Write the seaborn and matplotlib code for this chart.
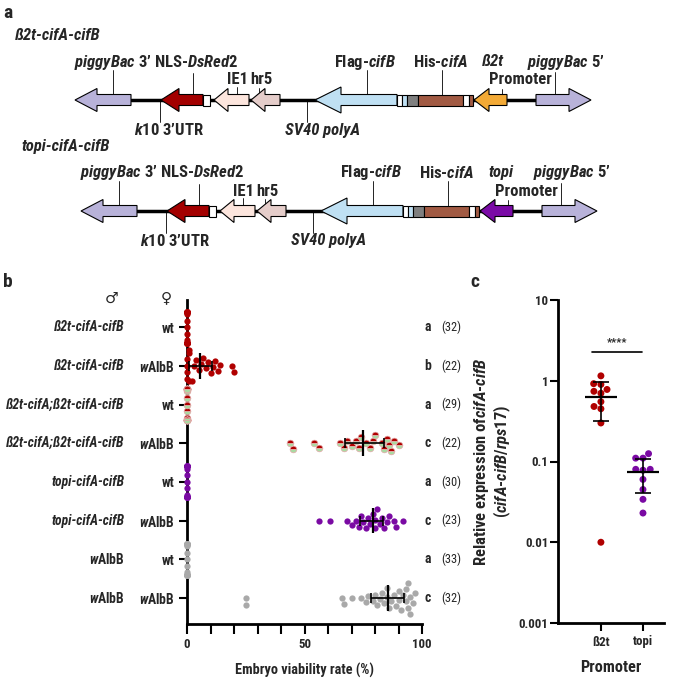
import warnings
import numpy as np
import pandas as pd
import matplotlib
matplotlib.use("Agg")
import matplotlib.pyplot as plt
from matplotlib import font_manager
from matplotlib.font_manager import FontProperties
from matplotlib.patches import Polygon, Rectangle
from matplotlib.ticker import NullLocator
import seaborn as sns

warnings.filterwarnings("ignore")

# ---------------- panel a: construct maps ----------------
construct_titles = ["ß2t-cifA-cifB", "topi-cifA-cifB"]
promoter_names = ["ß2t", "topi"]
# arrow features: left end, right end, head length, direction (-1 = points left)
feat_left = [75, 161, 214, 251, 315, 474, 536]
feat_right = [131, 203, 249, 280, 397, 507, 591]
feat_head = [22, 18, 14, 14, 26, 15, 22]
feat_dir = [-1, -1, -1, -1, -1, -1, 1]
feat_kind = ["pb", "dsred", "ie1", "hr5", "flag", "promoter", "pb"]
# small tag boxes inside the cassette
tag_left = [203, 397, 402, 407, 418, 463, 469]
tag_right = [210, 402, 407, 418, 463, 469, 473]
tag_kind = ["white", "white", "flag", "grey", "his", "white", "his"]

# ---------------- panel b: embryo viability (%) ----------------
male_labels = ["ß2t-cifA-cifB", "ß2t-cifA-cifB", "ß2t-cifA;ß2t-cifA-cifB", "ß2t-cifA;ß2t-cifA-cifB",
               "topi-cifA-cifB", "topi-cifA-cifB", "wAlbB", "wAlbB"]
female_labels = ["wt", "wAlbB", "wt", "wAlbB", "wt", "wAlbB", "wt", "wAlbB"]
stat_letters = ["a", "b", "a", "c", "a", "c", "a", "c"]
n_embryos = [32, 22, 29, 22, 30, 23, 33, 32]

rate_b2t_wt = [0, 0, 0, 0, 0, 0, 0, 0, 0, 0, 0, 0, 0, 0, 0, 0,
               0, 0, 0, 0, 0, 0, 0, 0, 0, 0, 0, 0, 0, 0, 0, 0]
rate_b2t_walbb = [0, 0, 0, 0, 1, 1, 1, 2, 3, 4, 5, 6, 7, 8, 9, 10, 11, 12, 13, 14, 19, 20]
rate_double_wt = [0, 0, 0, 0, 0, 0, 0, 0, 0, 0, 0, 0, 0, 0, 0,
                  0, 0, 0, 0, 0, 0, 0, 0, 0, 0, 0, 0, 0, 0]
rate_double_walbb = [44, 45, 54, 56, 65, 67, 68, 70, 72, 73, 74, 76, 78, 79, 80, 83,
                     84, 85, 86, 87, 88, 90]
rate_topi_wt = [0, 0, 0, 0, 0, 0, 0, 0, 0, 0, 0, 0, 0, 0, 0,
                0, 0, 0, 0, 0, 0, 0, 0, 0, 0, 0, 0, 0, 0, 0]
rate_topi_walbb = [56, 61, 68, 70, 72, 73, 74, 75, 76, 77, 78, 79, 80, 80, 81, 82,
                   83, 84, 85, 86, 88, 89, 92]
rate_walbb_wt = [0, 0, 0, 0, 0, 0, 0, 0, 0, 0, 0, 0, 0, 0, 0, 0, 0,
                 0, 0, 0, 0, 0, 0, 0, 0, 0, 0, 0, 0, 0, 0, 0, 0]
rate_walbb_walbb = [25, 25, 66, 67, 70, 74, 76, 77, 79, 80, 81, 82, 83, 84, 85, 85,
                    86, 87, 88, 89, 90, 90, 91, 92, 93, 93, 94, 94, 95, 95, 96, 97]
row_group = ["red", "red", "double", "double", "purple", "purple", "grey", "grey"]

# ---------------- panel c: relative expression ----------------
promoters = ["ß2t", "topi"]
expr_b2t = [1.15, 0.92, 0.90, 0.78, 0.74, 0.70, 0.55, 0.48, 0.45, 0.30, 0.01]
expr_topi = [0.125, 0.11, 0.11, 0.08, 0.08, 0.078, 0.06, 0.045, 0.034, 0.023]

RED = "#b00000"
GREEN = "#a9dba2"
PURPLE = "#7a0aa3"
GREY = "#a9a9a9"
palette_a = {"pb": "#b8b2d9", "dsred": "#a30000", "ie1": "#fce5dd", "hr5": "#e5cdca",
             "flag": "#bfe0f3", "white": "white", "grey": "#7f7f7f", "his": "#a15a43"}
promoter_colors = ["#f3aa36", "#7a0aa6"]


def pick_font():
    """look for a narrow sans (the original uses a condensed Arial-like face)"""
    ents = font_manager.fontManager.ttflist
    for fam in ["Liberation Sans Narrow", "Arial Narrow", "Roboto Condensed", "Open Sans Condensed"]:
        if any(e.name == fam for e in ents):
            return fam, "normal"
    for fam in ["Roboto", "Noto Sans", "Open Sans", "DejaVu Sans"]:
        if any(e.name == fam and e.stretch in ("condensed", "semi-condensed") for e in ents):
            return fam, "condensed"
    return "Liberation Sans", "normal"


FONT, STRETCH = pick_font()

sns.set_theme(style="ticks")
plt.rcParams["font.family"] = [FONT, "DejaVu Sans"]
plt.rcParams["font.stretch"] = STRETCH
plt.rcParams["mathtext.fontset"] = "custom"
plt.rcParams["mathtext.it"] = FontProperties(family=FONT, style="italic", weight="bold",
                                             stretch=STRETCH).get_fontconfig_pattern()
plt.rcParams["mathtext.rm"] = FontProperties(family=FONT, weight="bold",
                                             stretch=STRETCH).get_fontconfig_pattern()
plt.rcParams["mathtext.bf"] = plt.rcParams["mathtext.rm"]

W, H = 676, 681
fig = plt.figure(figsize=(W / 100, H / 100), dpi=100)
renderer = fig.canvas.get_renderer()


def fit(s, target, cap, **kw):
    """font size that makes string s about target pixels wide"""
    t = fig.text(0, 0, s, fontsize=10, **kw)
    w = t.get_window_extent(renderer).width
    t.remove()
    return min(cap, 10 * target / w)


def fig_box(x0, y0, x1, y1):
    """pixel box (top-left origin) -> figure rect"""
    return [x0 / W, 1 - y1 / H, (x1 - x0) / W, (y1 - y0) / H]


def arrow_poly(x0, x1, y, head, direction, h=5.5, hh=11.5):
    if direction < 0:
        xb = x0 + head
        return [(x0, y), (xb, y - hh), (xb, y - h), (x1, y - h), (x1, y + h), (xb, y + h), (xb, y + hh)]
    xb = x1 - head
    return [(x1, y), (xb, y - hh), (xb, y - h), (x0, y - h), (x0, y + h), (xb, y + h), (xb, y + hh)]


BI = dict(fontweight="bold", style="italic")
S_MALE = fit("ß2t-cifA;ß2t-cifA-cifB", 118, 11, **BI)
S_TITLE = fit("ß2t-cifA-cifB", 85, 12.5, **BI)
S_A = fit("piggyBac 3’ NLS-DsRed2", 165, 12, fontweight="bold")
S_TICK = fit("0.001", 30, 10.5, fontweight="bold")
S_XLAB = fit("Embryo viability rate (%)", 140, 11, fontweight="bold")
S_PROM = fit("Promoter", 61, 12, fontweight="bold")
S_YLAB = fit("Relative expression of cifA-cifB", 246, 12, fontweight="bold")
S_N = fit("(32)", 20, 11)

# ---------------- panel a ----------------
ax_a = fig.add_axes([0, 1 - 290 / H, 1, 290 / H])
ax_a.set_xlim(0, W)
ax_a.set_ylim(290, 0)
ax_a.axis("off")

for k in range(2):
    dx, dy = 6 * k, 111 * k
    yc = 100 + dy
    ax_a.text(15 + dx, 36 + dy, construct_titles[k], fontsize=S_TITLE, va="center", **BI)
    ax_a.plot([feat_right[0] + dx, feat_left[-1] + dx], [yc, yc], color="black", lw=2.5, zorder=1)
    for x0, x1, hd, d, kind in zip(feat_left, feat_right, feat_head, feat_dir, feat_kind):
        col = promoter_colors[k] if kind == "promoter" else palette_a[kind]
        hh = 13 if kind == "flag" else 11.5
        ax_a.add_patch(Polygon(arrow_poly(x0 + dx, x1 + dx, yc, hd, d, hh=hh), closed=True,
                               facecolor=col, edgecolor="black", lw=0.8, zorder=2))
    for x0, x1, kind in zip(tag_left, tag_right, tag_kind):
        ax_a.add_patch(Rectangle((x0 + dx, yc - 5.5), x1 - x0, 11, facecolor=palette_a[kind],
                                 edgecolor="black", lw=0.8, zorder=3))
    lab = dict(fontsize=S_A, fontweight="bold", va="center")
    ax_a.text(74 + dx, 62 + dy, r"$\mathit{piggyBac}$ 3’ NLS-$\mathit{DsRed2}$", ha="left", **lab)
    ax_a.text(237 + dx, 80 + dy, "IE1", ha="center", **lab)
    ax_a.text(261 + dx, 80 + dy, "hr5", ha="center", **lab)
    ax_a.text(365 + dx, 62 + dy, r"Flag-$\mathit{cifB}$", ha="center", **lab)
    ax_a.text(441 + dx, 62 + dy, r"His-$\mathit{cifA}$", ha="center", **lab)
    ax_a.text(482 + dx, 62 + dy, promoter_names[k], ha="left", style="italic", **lab)
    ax_a.text(489 + dx, 80 + dy, "Promoter", ha="left", **lab)
    ax_a.text(566 + dx, 62 + dy, r"$\mathit{piggyBac\ 5}$’", ha="center", **lab)
    ax_a.text(169 + dx, 130 + dy, r"$\mathit{k10}$ 3’UTR", ha="center", **lab)
    ax_a.text(323 + dx, 130 + dy, "SV40 polyA", ha="center", style="italic", **lab)
    for px, y0, y1 in [(113, 70, 94.5), (193, 73, 94.5), (237, 87, 94.5), (259, 88, 94.5),
                       (367, 70, 94.5), (442, 70, 94.5), (502, 89, 94.5), (555, 72, 94.5),
                       (160, 100, 122), (307, 100, 122)]:
        ax_a.plot([px + dx, px + dx], [y0 + dy, y1 + dy], color="black", lw=0.6, zorder=1)

# ---------------- panel b ----------------
ax_b = fig.add_axes(fig_box(187, 300, 422, 624))
rates = [rate_b2t_wt, rate_b2t_walbb, rate_double_wt, rate_double_walbb,
         rate_topi_wt, rate_topi_walbb, rate_walbb_wt, rate_walbb_walbb]
row_ids = [f"r{i}" for i in range(len(rates))]
df_b = pd.DataFrame({
    "row": np.repeat(row_ids, [len(r) for r in rates]),
    "group": np.repeat(row_group, [len(r) for r in rates]),
    "rate": np.concatenate(rates).astype(float),
})
group_colors = {"red": RED, "double": RED, "purple": PURPLE, "grey": GREY}
double_colls = []
for grp, col in group_colors.items():
    n0 = len(ax_b.collections)
    sns.swarmplot(data=df_b[df_b["group"] == grp], x="rate", y="row", order=row_ids,
                  orient="h", color=col, size=4.5, linewidth=0, ax=ax_b)
    if grp == "double":
        double_colls = ax_b.collections[n0:]

ax_b.set_xlim(0, 100)
ax_b.set_ylim(7.67, -0.7)
for c in ax_b.collections:
    c.set_clip_on(False)
fig.canvas.draw()
xy = np.concatenate([c.get_offsets() for c in double_colls])
for c in double_colls:
    c.set_visible(False)
ax_b.plot(xy[:, 0], xy[:, 1], "o", ms=4.8, fillstyle="top", markerfacecolor=RED,
          markerfacecoloralt=GREEN, markeredgecolor="#e3a7a7", markeredgewidth=0.5,
          ls="none", clip_on=False, zorder=3)

for i, r in enumerate(rates):
    if max(r) == 0:
        continue
    q1, med, q3 = np.percentile(r, [25, 50, 75])
    ax_b.errorbar(med, i, xerr=[[med - q1], [q3 - med]], fmt="none", ecolor="black",
                  elinewidth=1.2, capsize=3.5, capthick=1.2, zorder=5)
    ax_b.vlines(med, i - 0.33, i + 0.33, color="black", lw=1.6, zorder=5)

fem = [r"$\mathit{w}$AlbB" if f == "wAlbB" else f for f in female_labels]
ax_b.set_yticks(range(len(rates)))
ax_b.set_yticklabels(fem, fontweight="bold", fontsize=S_MALE)
ax_b.set_xticks(range(0, 101, 10))
ax_b.set_xticklabels([str(t) if t % 50 == 0 else "" for t in range(0, 101, 10)],
                     fontweight="bold", fontsize=S_TICK)
ax_b.tick_params(axis="both", width=1.5, length=6, color="black", pad=3)
ax_b.tick_params(axis="x", length=7)
ax_b.set_ylabel("")
ax_b.set_xlabel("Embryo viability rate (%)", fontweight="bold", fontsize=S_XLAB, labelpad=9)
sns.despine(ax=ax_b)
for s in ["left", "bottom"]:
    ax_b.spines[s].set_linewidth(2)
    ax_b.spines[s].set_color("black")

ytr = ax_b.get_yaxis_transform()
for i, lab in enumerate(male_labels):
    if lab == "wAlbB":
        ax_b.text(-0.265, i, r"$\mathit{w}$AlbB", transform=ytr, ha="right", va="center",
                  fontweight="bold", fontsize=S_MALE)
    else:
        ax_b.text(-0.265, i, lab, transform=ytr, ha="right", va="center",
                  fontsize=S_MALE, **BI)
    ax_b.text(1.026, i, stat_letters[i], transform=ytr, ha="center", va="center",
              fontweight="bold", fontsize=S_MALE)
    ax_b.text(1.08, i, f"({n_embryos[i]})", transform=ytr, ha="left", va="center", fontsize=S_N)

fig.text(112 / W, 1 - 298 / H, "♂", family="DejaVu Sans", fontsize=11, ha="center", va="center")
fig.text(166 / W, 1 - 298 / H, "♀", family="DejaVu Sans", fontsize=11, ha="center", va="center")

# ---------------- panel c ----------------
ax_c = fig.add_axes(fig_box(558, 300, 664, 623))
df_c = pd.DataFrame({
    "promoter": ["ß2t"] * len(expr_b2t) + ["topi"] * len(expr_topi),
    "expr": expr_b2t + expr_topi,
})
sns.swarmplot(data=df_c, x="promoter", y="expr", hue="promoter", order=promoters,
              palette=[RED, PURPLE], size=5, linewidth=0, log_scale=True, legend=False, ax=ax_c)
for i, vals in enumerate([expr_b2t, expr_topi]):
    m, sd = np.mean(vals), np.std(vals, ddof=1)
    ax_c.errorbar(i, m, yerr=sd, fmt="none", ecolor="black", elinewidth=1.2,
                  capsize=6, capthick=1.2, zorder=5)
    ax_c.hlines(m, i - 0.38, i + 0.38, color="black", lw=1.6, zorder=5)
ax_c.plot([-0.22, 0.98], [2.3, 2.3], color="black", lw=1.2)
ax_c.text(0.38, 3.0, "****", ha="center", va="center", fontsize=8, fontweight="bold")
ax_c.set_ylim(1e-3, 10)
ax_c.set_xlim(-1.02, 1.5)
ax_c.set_yticks([1e-3, 1e-2, 1e-1, 1, 10])
ax_c.set_yticklabels(["0.001", "0.01", "0.1", "1", "10"], fontweight="bold", fontsize=S_TICK)
ax_c.yaxis.set_minor_locator(NullLocator())
ax_c.set_xticks([0, 1])
ax_c.set_xticklabels(promoters, fontweight="bold", fontsize=S_TICK)
ax_c.tick_params(axis="both", width=1.5, length=6, color="black", pad=3)
ax_c.tick_params(axis="y", pad=1)
ax_c.set_xlabel("Promoter", fontweight="bold", fontsize=S_PROM, labelpad=8)
ax_c.set_ylabel("Relative expression of$\\mathit{cifA}$-$\\mathit{cifB}$\n"
                "($\\mathit{cifA}$-$\\mathit{cifB}$/$\\mathit{rps17}$)",
                fontweight="bold", fontsize=S_YLAB, labelpad=4, linespacing=1.05)
sns.despine(ax=ax_c)
for s in ["left", "bottom"]:
    ax_c.spines[s].set_linewidth(2)
    ax_c.spines[s].set_color("black")

# panel letters
for letter, px, py in [("a", 3, 13), ("b", 3, 282), ("c", 470, 282)]:
    fig.text(px / W, 1 - py / H, letter, fontsize=14, fontweight="bold", ha="left", va="center")

fig.savefig("out.png", dpi=100)
